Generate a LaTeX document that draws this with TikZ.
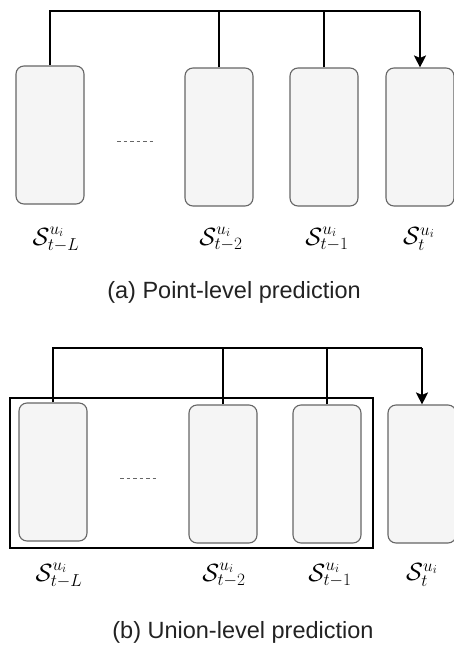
\documentclass[tikz,border=0pt]{standalone}
\usepackage{fontspec}
\setmainfont{Liberation Sans}
\usetikzlibrary{arrows.meta}
\definecolor{boxfill}{HTML}{F5F5F5}
\definecolor{boxline}{HTML}{666666}
\definecolor{captext}{HTML}{222222}
\begin{document}
\begin{tikzpicture}[x=1pt,y=-1pt,
  seqbox/.style={draw=boxline,fill=boxfill,line width=1.1pt,rounded corners=8pt,
    minimum width=68pt,minimum height=138pt,inner sep=0pt},
  link/.style={draw=black,line width=1.6pt},
  linkarrow/.style={link,-{Stealth[length=12pt,width=12pt,inset=2.5pt]}},
  gap/.style={draw=boxline,line width=0.8pt,dash pattern=on 3.5pt off 3pt},
  seqlabel/.style={inner sep=0pt,font=\fontsize{25}{30}\selectfont},
  caption/.style={inner sep=0pt,text=captext,font=\fontsize{23.5}{28}\selectfont},
  groupbox/.style={draw=black,line width=1.6pt}
]
\useasboundingbox (0,0) rectangle (454,657);

% ---- (a) point-level prediction ----
\node[seqbox] (a1) at (50,135) {};
\node[seqbox] (a2) at (219,137) {};
\node[seqbox] (a3) at (324,137) {};
\node[seqbox] (a4) at (420,137) {};
\coordinate (atop) at (0,11);
\draw[gap] (117,141) -- (156,141);
\draw[link] (a1.north) -- (a1.north |- atop) -- (a4.north |- atop);
\draw[link] (a2.north) -- (a2.north |- atop);
\draw[link] (a3.north) -- (a3.north |- atop);
\draw[linkarrow] (a4.north |- atop) -- (a4.north);

\node[seqlabel] (la1) at (56,239) {$\mathcal{S}^{u_i}_{t-L}$};
\node[seqlabel] (la2) at (221,239) {$\mathcal{S}^{u_i}_{t-2}$};
\node[seqlabel] (la3) at (327,239) {$\mathcal{S}^{u_i}_{t-1}$};
\node[seqlabel] (la4) at (419,239) {$\mathcal{S}^{u_i}_{t}$};
\node[caption] (capa) at (234,292) {(a) Point-level prediction};

% ---- (b) union-level prediction ----
\node[groupbox,minimum width=363pt,minimum height=150pt,inner sep=0pt] (grp) at (191.5,473) {};
\node[seqbox] (b1) at (53,472) {};
\node[seqbox] (b2) at (223,474) {};
\node[seqbox] (b3) at (327,474) {};
\node[seqbox] (b4) at (422,474) {};
\coordinate (btop) at (0,348);
\draw[gap] (120,478) -- (159,478);
\draw[link] (b1.north) -- (b1.north |- btop) -- (b4.north |- btop);
\draw[link] (b2.north) -- (b2.north |- btop);
\draw[link] (b3.north) -- (b3.north |- btop);
\draw[linkarrow] (b4.north |- btop) -- (b4.north);

\node[seqlabel] (lb1) at (59,575) {$\mathcal{S}^{u_i}_{t-L}$};
\node[seqlabel] (lb2) at (224,575) {$\mathcal{S}^{u_i}_{t-2}$};
\node[seqlabel] (lb3) at (330,575) {$\mathcal{S}^{u_i}_{t-1}$};
\node[seqlabel] (lb4) at (422,575) {$\mathcal{S}^{u_i}_{t}$};
\node[caption] (capb) at (243,632) {(b) Union-level prediction};
\end{tikzpicture}
\end{document}
